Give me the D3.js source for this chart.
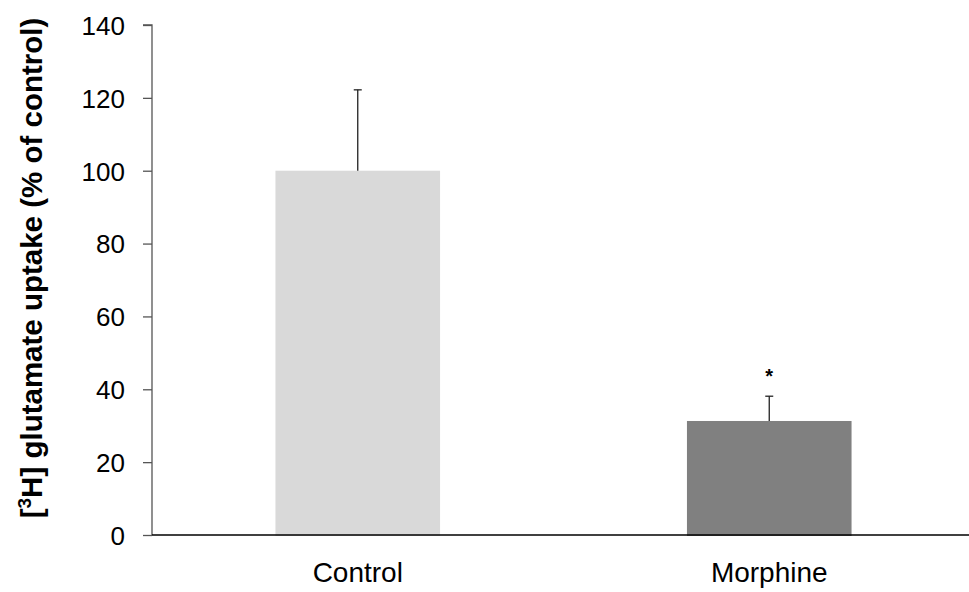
<!doctype html>
<html lang="en">
  <head>
    <meta charset="UTF-8" />
    <title>Glutamate uptake</title>
    <script src="https://d3js.org/d3.v7.min.js"></script>
    <style>
      body {
        margin: 0;
        padding: 0;
        background: #fff;
        font-family: 'Liberation Sans', Arial, sans-serif;
      }
      .y-axis .tick text {
        font-size: 26px;
        fill: #000;
        font-family: 'Liberation Sans', Arial, sans-serif;
      }
      .x-axis .tick text {
        font-size: 28px;
        fill: #000;
        font-family: 'Liberation Sans', Arial, sans-serif;
      }
      .y-label {
        font-size: 29.5px;
        font-weight: bold;
        fill: #000;
      }
    </style>
  </head>
  <body>
    <div id="chart"></div>
    <script>
      // Data
      const groups = ['Control', 'Morphine']
      const means = [100, 31.3]
      const errors = [22.2, 6.8]
      const colors = ['#d9d9d9', '#808080']
      const yTicks = [0, 20, 40, 60, 80, 100, 120, 140]
      const stars = ['', '*']

      const W = 969
      const H = 592
      const margin = { top: 25, right: 0, bottom: 57, left: 152 }

      const svg = d3.select('#chart').append('svg').attr('width', W).attr('height', H)

      const x = d3
        .scaleBand()
        .domain(groups)
        .range([margin.left, 975])
        .paddingInner(0.6)
        .paddingOuter(0.3)

      const y = d3
        .scaleLinear()
        .domain([0, 140])
        .range([H - margin.bottom, margin.top])

      // bars
      svg
        .selectAll('.bar')
        .data(groups)
        .join('rect')
        .attr('class', 'bar')
        .attr('x', (d) => x(d))
        .attr('y', (d, i) => y(means[i]))
        .attr('width', x.bandwidth())
        .attr('height', (d, i) => y(0) - y(means[i]) + 1)
        .attr('fill', (d, i) => colors[i])

      // error bars (upper only)
      const eb = svg.append('g').attr('stroke', '#222').attr('stroke-width', 1.3)
      groups.forEach((g, i) => {
        const cx = x(g) + x.bandwidth() / 2
        eb.append('line')
          .attr('x1', cx).attr('x2', cx)
          .attr('y1', y(means[i])).attr('y2', y(means[i] + errors[i]))
        eb.append('line')
          .attr('x1', cx - 4).attr('x2', cx + 4)
          .attr('y1', y(means[i] + errors[i])).attr('y2', y(means[i] + errors[i]))
        if (stars[i]) {
          svg.append('text')
            .attr('x', cx)
            .attr('y', y(means[i] + errors[i]) - 13)
            .attr('text-anchor', 'middle')
            .attr('font-size', 20)
            .attr('font-weight', 'bold')
            .text(stars[i])
        }
      })

      // y axis
      const yAxis = svg
        .append('g')
        .attr('class', 'y-axis')
        .attr('transform', `translate(${margin.left},0)`)
        .call(d3.axisLeft(y).tickValues(yTicks).tickSize(9).tickPadding(18))
      yAxis.selectAll('line, path').attr('stroke', '#555').attr('stroke-width', 1.3)
      yAxis.select('.domain').attr('d', `M-9,${y(140)}H0V${y(0)}`)
      yAxis.selectAll('.tick text').attr('dy', '0.36em')

      // x axis
      const xAxis = svg
        .append('g')
        .attr('class', 'x-axis')
        .attr('transform', `translate(0,${y(0)})`)
        .call(d3.axisBottom(x).tickSize(0).tickPadding(27))
      xAxis.select('.domain').attr('d', `M${margin.left},0H${W}`).attr('stroke', '#000').attr('stroke-width', 1.5)

      // y label
      const lab = svg
        .append('text')
        .attr('class', 'y-label')
        .attr('text-anchor', 'middle')
        .attr('transform', `translate(42,268) rotate(-90)`)
      lab.append('tspan').text('[')
      lab.append('tspan').attr('font-size', 19).attr('dy', -11).text('3')
      lab.append('tspan').attr('dy', 11).text('H] glutamate uptake (% of control)')
    </script>
  </body>
</html>
